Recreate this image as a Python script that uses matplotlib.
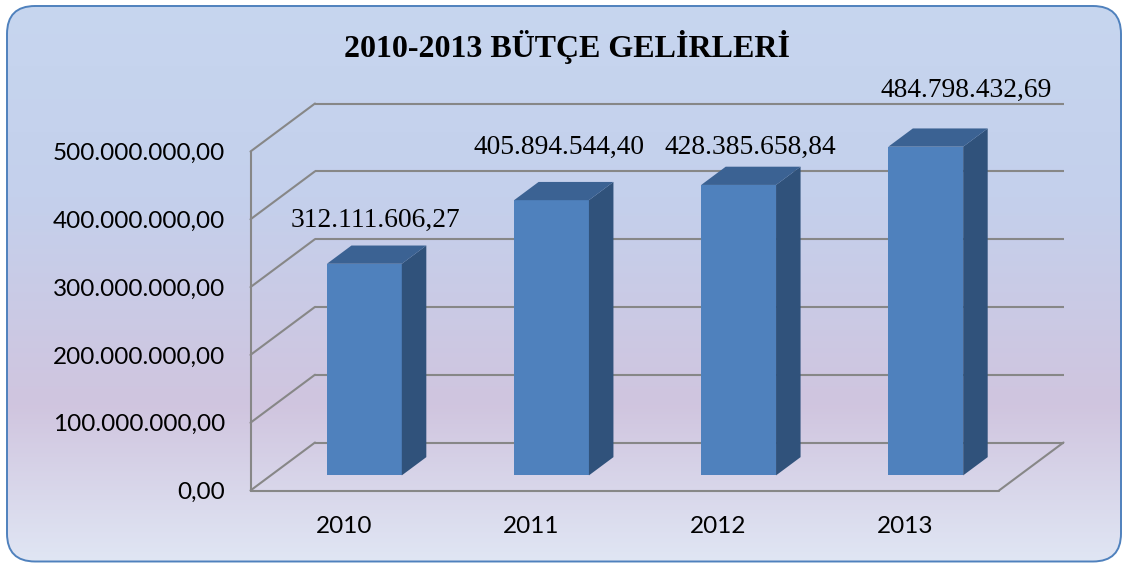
import numpy as np
import matplotlib
matplotlib.use("Agg")
import matplotlib.pyplot as plt
from matplotlib.patches import Polygon, FancyBboxPatch
from matplotlib.lines import Line2D
from matplotlib import transforms
from matplotlib.colors import LinearSegmentedColormap

# ---------------- data ----------------
years = ["2010", "2011", "2012", "2013"]
revenues = [312111606.27, 405894544.40, 428385658.84, 484798432.69]
y_ticks = [0, 100e6, 200e6, 300e6, 400e6, 500e6]
title_text = "2010-2013 BÜTÇE GELİRLERİ"

# ---------------- style ----------------
W, H, DPI = 1123, 563, 100
DX, DY = 64.5, 48.0          # 3D depth offset (pixels) for full depth
Z0, Z1 = 0.315, 0.695        # bar depth range
BAR_W = 0.40
FRONT_C, TOP_C, SIDE_C = "#4f81bd", "#3b6293", "#30527b"
GRID_C = "#878787"
LBL_DX = [-1, -5, -1, 28]    # manual label offsets (px)
LBL_DY = [28, 37, 22, 41]


def tr_fmt(v):
    s = f"{v:,.2f}"
    return s.replace(",", "X").replace(".", ",").replace("X", ".")


fig = plt.figure(figsize=(W / DPI, H / DPI), dpi=DPI)
fig.patch.set_facecolor("white")

# background with rounded border and gradient
bg = fig.add_axes([0, 0, 1, 1])
bg.set_xlim(0, W)
bg.set_ylim(0, H)
bg.axis("off")
bg.set_zorder(-1)
box = FancyBboxPatch((7, H - 561.5), 1114, 555.5,
                     boxstyle="round,pad=0,rounding_size=28",
                     facecolor="none", edgecolor="#4f81bd", linewidth=1.4, zorder=3)
bg.add_patch(box)
cmap = LinearSegmentedColormap.from_list(
    "bgc", [(0.0, (199/255, 214/255, 239/255)),
            (0.35, (196/255, 208/255, 236/255)),
            (0.72, (208/255, 197/255, 223/255)),
            (1.0, (224/255, 230/255, 244/255))])
grad = np.linspace(0, 1, 256).reshape(-1, 1)
im = bg.imshow(grad, extent=[0, W, 0, H], origin="upper", aspect="auto", cmap=cmap, zorder=1)
im.set_clip_path(box)

# main axes (front plane)
ax = fig.add_axes([250.5 / W, (H - 490.5) / H, 748.5 / W, 339 / H])
ax.set_facecolor("none")
ax.set_xlim(-0.5, 3.5)
ax.set_ylim(0, 500e6)
ax.set_autoscale_on(False)
for s in ax.spines.values():
    s.set_visible(False)

ax.set_yticks(y_ticks)
ax.set_yticklabels([tr_fmt(t) for t in y_ticks])
ax.set_xticks(range(len(years)))
ax.set_xticklabels(years)
ax.tick_params(axis="y", length=0, pad=18.4, labelsize=17.5, labelcolor="black")
ax.tick_params(axis="x", length=0, pad=18.5, labelsize=17.5, labelcolor="black")
for lab in ax.get_xticklabels() + ax.get_yticklabels():
    lab.set_fontfamily("Lato")

ID = transforms.IdentityTransform()


def P(x, v, z):
    d = ax.transData.transform((x, v))
    return (d[0] + z * DX, d[1] + z * DY)


def offset(z):
    return ax.transData + transforms.ScaledTranslation(z * DX / DPI, z * DY / DPI, fig.dpi_scale_trans)


def line(p, q, **kw):
    ax.add_artist(Line2D([p[0], q[0]], [p[1], q[1]], transform=ID, clip_on=False,
                         color=GRID_C, linewidth=1.5, solid_capstyle="round", **kw))


x0, x1 = -0.5, 3.5
# back wall gridlines
ax.hlines(y_ticks, x0, x1, colors=GRID_C, linewidth=1.5, transform=offset(1.0),
          clip_on=False, zorder=1)
# left wall diagonals
for t in y_ticks:
    line(P(x0, t, 0), P(x0, t, 1), zorder=1)
# front vertical axis and floor edges
line(P(x0, 0, 0), P(x0, y_ticks[-1], 0), zorder=1)
line(P(x0, 0, 0), P(x1, 0, 0), zorder=1)
line(P(x1, 0, 0), P(x1, 0, 1), zorder=1)

# bars: front faces
xs = np.arange(len(years))
ax.bar(xs, revenues, width=BAR_W, color=FRONT_C, transform=offset(Z0),
       clip_on=False, zorder=5, linewidth=0)
# side and top faces
for x, v in zip(xs, revenues):
    xl, xr = x - BAR_W / 2, x + BAR_W / 2
    side = [P(xr, 0, Z0), P(xr, 0, Z1), P(xr, v, Z1), P(xr, v, Z0)]
    top = [P(xl, v, Z0), P(xr, v, Z0), P(xr, v, Z1), P(xl, v, Z1)]
    ax.add_artist(Polygon(side, closed=True, transform=ID, clip_on=False,
                          facecolor=SIDE_C, edgecolor="none", zorder=5))
    ax.add_artist(Polygon(top, closed=True, transform=ID, clip_on=False,
                          facecolor=TOP_C, edgecolor="none", zorder=5))

# data labels
zm = (Z0 + Z1) / 2
for i, (x, v) in enumerate(zip(xs, revenues)):
    px, py = P(x, v, zm)
    ax.text(px + LBL_DX[i], py + LBL_DY[i], tr_fmt(v), transform=ID,
            ha="center", va="baseline", fontsize=19.8,
            fontfamily="Liberation Serif", color="black", zorder=6, clip_on=False)

# title
fig.text(567 / W, (H - 56.7) / H, title_text, ha="center", va="baseline",
         fontsize=23, fontweight="bold", fontfamily="Liberation Serif", color="black")

fig.savefig("out.png", dpi=DPI)
